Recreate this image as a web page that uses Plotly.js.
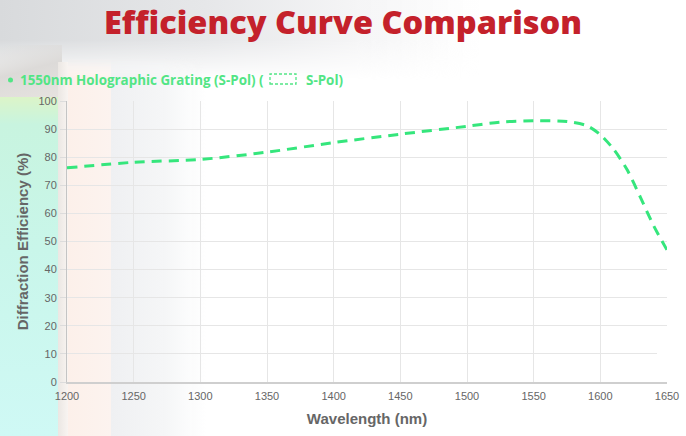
<!DOCTYPE html>
<html>
<head>
<meta charset="utf-8">
<script src="https://cdn.plot.ly/plotly-3.0.1.min.js"></script>
<style>
  html, body { margin: 0; padding: 0; background: #fff; }
  #wrap { position: relative; width: 686px; height: 436px; overflow: hidden; }
  .bg { position: absolute; }
  #chart { position: absolute; left: 0; top: 0; }
</style>
</head>
<body>
<div id="wrap">
  <!-- background photo, roughly -->
  <div class="bg" style="left:0;top:0;width:686px;height:80px;
       background:linear-gradient(to right,#d8dadc 0,#e6e7e9 30%,#f5f5f6 52%,rgba(255,255,255,0) 70%);
       -webkit-mask-image:linear-gradient(to bottom,#000 50%,transparent);"></div>
  <div class="bg" style="left:0;top:45px;width:62px;height:55px;
       background:linear-gradient(165deg,rgba(214,214,214,0) 0,#dcdad8 45%,#e7e3e0 100%);"></div>
  <div class="bg" style="left:0;top:97px;width:58px;height:339px;
       background:linear-gradient(to bottom,#dcf4c8 0,#c8f4df 8%,#c9f6ea 45%,#cff9f5 100%);"></div>
  <div class="bg" style="left:58px;top:62px;width:10px;height:374px;
       background:linear-gradient(to right,#ebe7e3,#f8f4f1);"></div>
  <div class="bg" style="left:68px;top:58px;width:43px;height:378px;
       background:linear-gradient(to right,#fcf0ea,#fcf3ef);
       -webkit-mask-image:linear-gradient(to bottom,transparent 0,#000 20px);"></div>
  <div class="bg" style="left:111px;top:58px;width:95px;height:378px;
       background:linear-gradient(to right,#eff0f2,#f5f6f7 55%,rgba(255,255,255,0));
       -webkit-mask-image:linear-gradient(to bottom,transparent 0,#000 20px);"></div>
  <div id="chart"></div>
</div>
<script>
var wavelength = [1200, 1250, 1300, 1350, 1400, 1450, 1500, 1525, 1550, 1575, 1590, 1600, 1610, 1620, 1630, 1640, 1650];
var efficiency = [76.2, 78.2, 79.2, 81.8, 85.2, 88.2, 91.0, 92.5, 93.0, 92.7, 91.2, 88.0, 82.8, 75.6, 65.8, 55.6, 47.0];
var xTicks = [1200, 1250, 1300, 1350, 1400, 1450, 1500, 1550, 1600, 1650];
var yTicks = [0, 10, 20, 30, 40, 50, 60, 70, 80, 90, 100];

var green = "#35e67c";
var legendGreen = "#52e585";
var W = 686, H = 436;
var m = {l: 67, r: 19, t: 101, b: 54};

// pixel -> paper helpers for the legend bits
function px(x){ return (x - m.l) / (W - m.l - m.r); }
function py(y){ return (H - m.b - y) / (H - m.t - m.b); }

var trace = {
    type: "scatter",
    mode: "lines",
    x: wavelength,
    y: efficiency,
    line: {color: green, width: 3, dash: "10px,7px", shape: "spline", smoothing: 0.8},
    hoverinfo: "x+y"
};

var layout = {
    width: W,
    height: H,
    margin: m,
    paper_bgcolor: "rgba(0,0,0,0)",
    plot_bgcolor: "rgba(0,0,0,0)",
    showlegend: false,
    title: {
        text: "Efficiency Curve Comparison",
        font: {family: "Open Sans", size: 32.5, color: "#c4212b", weight: 800},
        x: 0.5, xref: "container", xanchor: "center",
        y: 1 - 22.5 / H, yref: "container", yanchor: "middle"
    },
    xaxis: {
        range: [1200, 1650],
        tickvals: xTicks,
        showgrid: true,
        gridcolor: "#e6e6e6",
        gridwidth: 1,
        zeroline: false,
        showline: true,
        linecolor: "#cfcfcf",
        linewidth: 2,
        ticks: "",
        ticklabelstandoff: 3,
        tickfont: {family: "Liberation Sans, Arial", size: 11, color: "#666"},
        title: {
            text: "Wavelength (nm)",
            font: {family: "Liberation Sans, Arial", size: 15, color: "#666", weight: "bold"},
            standoff: 12
        },
        fixedrange: true
    },
    yaxis: {
        range: [0, 100],
        tickvals: yTicks,
        showgrid: true,
        gridcolor: "#e6e6e6",
        gridwidth: 1,
        zeroline: false,
        showline: true,
        linecolor: "#c4c4c4",
        linewidth: 1,
        ticks: "outside",
        ticklen: 6,
        tickcolor: "#dcdcdc",
        ticklabelstandoff: 1,
        tickfont: {family: "Liberation Sans, Arial", size: 11, color: "#666"},
        title: {
            text: "Diffraction Efficiency (%)",
            font: {family: "Liberation Sans, Arial", size: 15, color: "#666", weight: "bold"},
            standoff: 6
        },
        fixedrange: true
    },
    annotations: [
        {
            xref: "paper", yref: "paper", x: px(18), y: py(80),
            xanchor: "left", yanchor: "middle", showarrow: false,
            text: "1550nm Holographic Grating (S-Pol) (",
            font: {family: "Open Sans", size: 13.4, color: legendGreen, weight: 700}
        },
        {
            xref: "paper", yref: "paper", x: px(304), y: py(80),
            xanchor: "left", yanchor: "middle", showarrow: false,
            text: "S-Pol)",
            font: {family: "Open Sans", size: 13.4, color: legendGreen, weight: 700}
        }
    ],
    shapes: [
        {
            type: "circle", xref: "paper", yref: "paper", layer: "above",
            x0: px(8), x1: px(13), y0: py(77.5), y1: py(82.5),
            fillcolor: legendGreen, line: {width: 0}
        },
        {
            type: "rect", xref: "paper", yref: "paper", layer: "above",
            x0: px(270), x1: px(296), y0: py(84), y1: py(74),
            fillcolor: "rgba(0,0,0,0)",
            line: {color: legendGreen, width: 1.3, dash: "3px,2px"}
        },
        {
            type: "rect", xref: "paper", yref: "paper", layer: "above",
            x0: px(657), x1: px(690), y0: py(360), y1: py(330),
            fillcolor: "#ffffff", line: {width: 0}
        }
    ]
};

Plotly.newPlot("chart", [trace], layout, {displayModeBar: false, staticPlot: true});
</script>
</body>
</html>
